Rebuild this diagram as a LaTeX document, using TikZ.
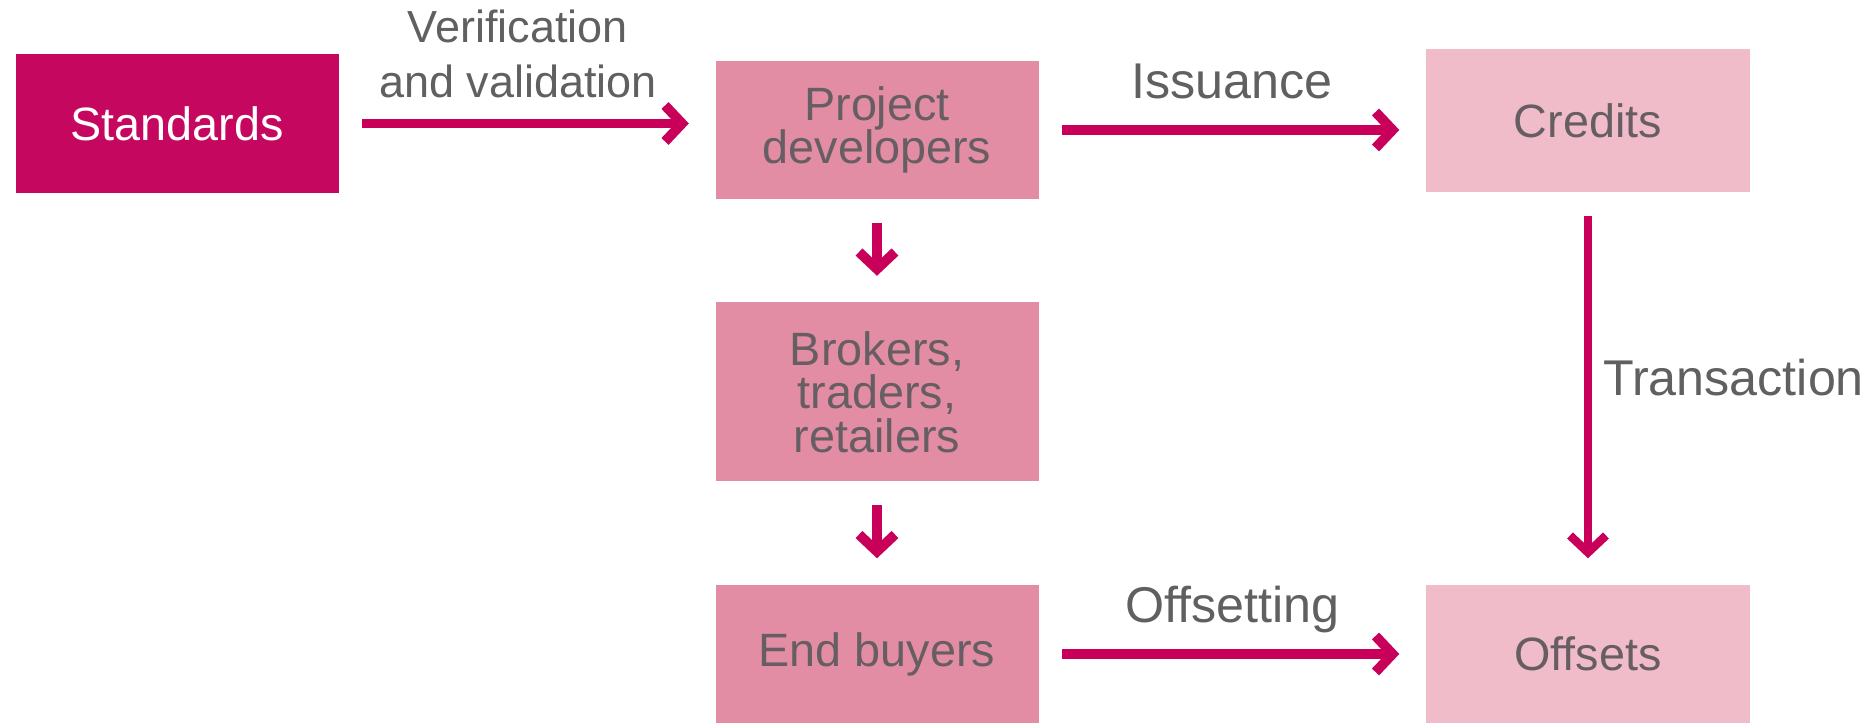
\documentclass[tikz,border=0pt]{standalone}
\usepackage{fontspec}
\setmainfont{Liberation Sans}
\usetikzlibrary{positioning, arrows.meta}

\definecolor{stdmag}{HTML}{C6075F}
\definecolor{pinkmid}{HTML}{E38DA5}
\definecolor{pinklight}{HTML}{F1BCCA}
\definecolor{boxtext}{HTML}{675E63}
\definecolor{labeltext}{HTML}{606060}
\definecolor{arrowmag}{HTML}{C8005A}

\begin{document}
\begin{tikzpicture}[
    node distance=2.62cm,
    box/.style={rectangle, inner sep=0pt, minimum width=3.23cm, minimum height=1.38cm, align=center, text=boxtext, font=\fontsize{13.3}{12.4}\selectfont},
    stdbox/.style={box, fill=stdmag, text=white},
    actor/.style={box, fill=pinkmid},
    result/.style={box, fill=pinklight, minimum width=3.24cm},
    lbl/.style={inner sep=0pt, text depth=0pt, text=labeltext, font=\fontsize{14.3}{16}\selectfont},
    arrow/.style={-{Straight Barb[length=0.17cm, width=0.36cm]}, line width=2.8pt, draw=arrowmag, shorten <=0.23cm, shorten >=0.26cm}
]
\useasboundingbox (0,0) rectangle (18.72,-7.23);

% Top row
\node[stdbox, minimum height=1.39cm] (std) at (1.77,-1.235) {Standards};
\node[actor, right of=std, xshift=4.38cm, yshift=-0.065cm] (pd) {Project\\developers};
\node[result, right of=pd, xshift=4.49cm, yshift=0.09cm, minimum height=1.43cm] (cred) {Credits};

% Middle column
\node[actor, below of=pd, minimum height=1.79cm] (brok) {Brokers,\\traders,\\retailers};
\node[actor, below of=brok] (endb) {End buyers};
\node[result, right of=endb, xshift=4.49cm] (offs) {Offsets};

% Arrows
\draw[arrow] (std.east) -- (std.east -| pd.west)
    node[lbl, midway, above=0.21cm, xshift=-0.09cm, align=center, font=\fontsize{12.8}{15.6}\selectfont] (vv) {Verification\\and validation};
\draw[arrow] (pd.east) -- (pd.east -| cred.west)
    node[lbl, midway, above=0.27cm] (iss) {Issuance};
\draw[arrow] (pd) -- (brok);
\draw[arrow] (brok) -- (endb);
\draw[arrow, line width=2.4pt] (cred) -- (offs)
    node[lbl, pos=0.47, right=0.11cm] (trans) {Transaction};
\draw[arrow] (endb) -- (offs)
    node[lbl, midway, above=0.27cm] (offl) {Offsetting};

\end{tikzpicture}
\end{document}
